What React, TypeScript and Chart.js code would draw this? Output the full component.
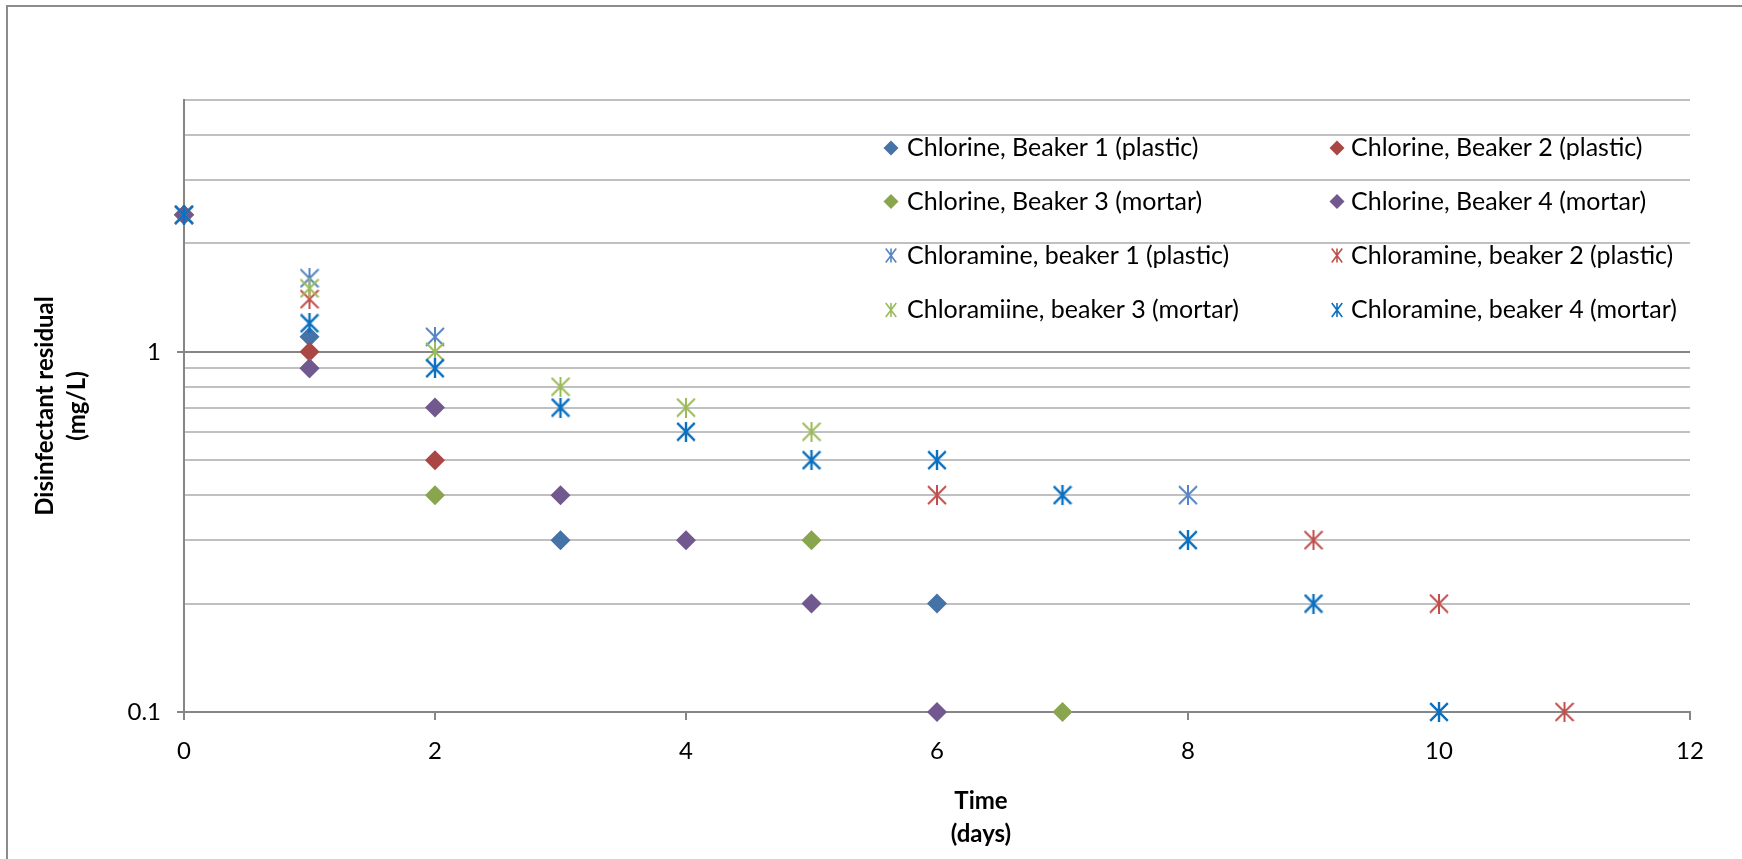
import React, { useEffect, useRef } from "react";
import { Chart, registerables } from "chart.js";

Chart.register(...registerables);

// ---- Data (days, mg/L) ----
const seriesLabels = [
  "Chlorine, Beaker 1 (plastic)",
  "Chlorine, Beaker 2 (plastic)",
  "Chlorine, Beaker 3 (mortar)",
  "Chlorine, Beaker 4 (mortar)",
  "Chloramine, beaker 1 (plastic)",
  "Chloramine, beaker 2 (plastic)",
  "Chloramiine, beaker 3 (mortar)",
  "Chloramine, beaker 4 (mortar)",
];

const clB1Days = [0, 1, 3, 6];
const clB1Values = [2.4, 1.1, 0.3, 0.2];
const clB2Days = [0, 1, 2];
const clB2Values = [2.4, 1.0, 0.5];
const clB3Days = [0, 1, 2, 5, 7];
const clB3Values = [2.4, 0.9, 0.4, 0.3, 0.1];
const clB4Days = [0, 1, 2, 3, 4, 5, 6];
const clB4Values = [2.4, 0.9, 0.7, 0.4, 0.3, 0.2, 0.1];

const cmB1Days = [0, 1, 2, 8];
const cmB1Values = [2.4, 1.6, 1.1, 0.4];
const cmB2Days = [0, 1, 6, 9, 10, 11];
const cmB2Values = [2.4, 1.4, 0.4, 0.3, 0.2, 0.1];
const cmB3Days = [0, 1, 2, 3, 4, 5];
const cmB3Values = [2.4, 1.5, 1.0, 0.8, 0.7, 0.6];
const cmB4Days = [0, 1, 2, 3, 4, 5, 6, 7, 8, 9, 10];
const cmB4Values = [2.4, 1.2, 0.9, 0.7, 0.6, 0.5, 0.5, 0.4, 0.3, 0.2, 0.1];

const xTickMin = 0;
const xTickMax = 12;
const xTickStep = 2;
const yTickValues = [0.1, 0.2, 0.3, 0.4, 0.5, 0.6, 0.7, 0.8, 0.9, 1, 2, 3, 4, 5];
const yLabeledTicks = [0.1, 1];

const seriesDays = [clB1Days, clB2Days, clB3Days, clB4Days, cmB1Days, cmB2Days, cmB3Days, cmB4Days];
const seriesValues = [clB1Values, clB2Values, clB3Values, clB4Values, cmB1Values, cmB2Values, cmB3Values, cmB4Values];
const seriesColors = ["#4572A7", "#AA4643", "#89A54E", "#71588F", "#5585C6", "#C0504D", "#9BBB59", "#0A70C0"];
const seriesMarkers = ["diamond", "diamond", "diamond", "diamond", "star", "star", "star", "star"];

const FONT = "Lato, 'Open Sans', sans-serif";

function makeStar(color: string, size: number, lw: number) {
  const c = document.createElement("canvas");
  c.width = size;
  c.height = size;
  const g = c.getContext("2d")!;
  g.strokeStyle = color;
  g.lineWidth = lw;
  const p = lw / 2;
  g.beginPath();
  g.moveTo(p, p);
  g.lineTo(size - p, size - p);
  g.moveTo(size - p, p);
  g.lineTo(p, size - p);
  g.moveTo(size / 2, 0);
  g.lineTo(size / 2, size);
  g.stroke();
  return c;
}

const decorPlugin = {
  id: "decor",
  afterDraw(chart: any) {
    const ctx = chart.ctx as CanvasRenderingContext2D;
    ctx.save();
    // outer chart border
    ctx.strokeStyle = "#8C8C8C";
    ctx.lineWidth = 2;
    ctx.strokeRect(7, 6, 3000, 3000);

    // axis titles
    ctx.fillStyle = "#000";
    ctx.font = `bold 24px ${FONT}`;
    ctx.textAlign = "center";
    ctx.textBaseline = "alphabetic";
    ctx.fillText("Time", 981, 809);
    ctx.fillText("(days)", 981, 842);

    ctx.save();
    ctx.translate(53, 406);
    ctx.rotate(-Math.PI / 2);
    ctx.fillText("Disinfectant residual", 0, 0);
    ctx.restore();
    ctx.save();
    ctx.translate(85, 406);
    ctx.rotate(-Math.PI / 2);
    ctx.fillText("(mg/L)", 0, 0);
    ctx.restore();

    // legend (inside plot, two columns)
    const colMarkerX = [891, 1337];
    const colTextX = [907, 1351];
    const rowBase = [156, 209.5, 263.5, 318];
    ctx.font = `25px ${FONT}`;
    ctx.textAlign = "left";
    chart.data.datasets.forEach((ds: any, i: number) => {
      const col = i % 2;
      const row = Math.floor(i / 2);
      const cy = rowBase[row] - 8;
      const mx = colMarkerX[col];
      const color = seriesColors[i];
      if (seriesMarkers[i] === "diamond") {
        ctx.fillStyle = color;
        ctx.beginPath();
        ctx.moveTo(mx - 7.5, cy);
        ctx.lineTo(mx, cy - 7.5);
        ctx.lineTo(mx + 7.5, cy);
        ctx.lineTo(mx, cy + 7.5);
        ctx.closePath();
        ctx.fill();
      } else {
        ctx.strokeStyle = color;
        ctx.lineWidth = 1.6;
        const r = 7;
        ctx.beginPath();
        ctx.moveTo(mx - r * 0.75, cy - r);
        ctx.lineTo(mx + r * 0.75, cy + r);
        ctx.moveTo(mx + r * 0.75, cy - r);
        ctx.lineTo(mx - r * 0.75, cy + r);
        ctx.moveTo(mx, cy - r);
        ctx.lineTo(mx, cy + r);
        ctx.stroke();
      }
      ctx.fillStyle = "#000";
      ctx.fillText(ds.label, colTextX[col], rowBase[row]);
    });
    ctx.restore();
  },
};

export default function App() {
  const ref = useRef<HTMLCanvasElement | null>(null);

  useEffect(() => {
    if (!ref.current) return;
    const datasets = seriesLabels.map((label, i) => {
      const isStar = seriesMarkers[i] === "star";
      return {
        label,
        data: seriesDays[i].map((d, j) => ({ x: d, y: seriesValues[i][j] })),
        pointStyle: isStar ? makeStar(seriesColors[i], 20, i === 7 ? 2.4 : 2) : "rectRot",
        pointRadius: 10,
        pointHoverRadius: 10,
        pointBackgroundColor: seriesColors[i],
        pointBorderColor: seriesColors[i],
        pointBorderWidth: 0,
        showLine: false,
        clip: false,
        order: -i,
      };
    });

    const chart = new Chart(ref.current, {
      type: "scatter",
      data: { datasets } as any,
      plugins: [decorPlugin],
      options: {
        responsive: false,
        animation: false,
        devicePixelRatio: 1,
        layout: { padding: { top: 100, right: 52, left: 0, bottom: 0 } },
        plugins: {
          legend: { display: false },
          tooltip: { enabled: false },
          title: { display: false },
        },
        scales: {
          x: {
            type: "linear",
            min: xTickMin,
            max: xTickMax,
            ticks: {
              stepSize: xTickStep,
              color: "#000",
              font: { family: FONT, size: 24 },
              padding: 17,
              maxRotation: 0,
            },
            grid: {
              drawOnChartArea: false,
              drawTicks: true,
              tickLength: 8,
              tickColor: "#868686",
              tickWidth: 2,
              lineWidth: 2,
            },
            border: { color: "#868686", width: 2 },
            afterFit: (s: any) => {
              s.height = 147;
            },
          },
          y: {
            type: "logarithmic",
            min: 0.1,
            max: 5,
            afterBuildTicks: (s: any) => {
              s.ticks = yTickValues.map((v) => ({ value: v, major: false }));
            },
            ticks: {
              autoSkip: false,
              color: "#000",
              font: { family: FONT, size: 24 },
              padding: 16,
              callback: (v: any) => (yLabeledTicks.includes(Number(v)) ? String(v) : ""),
            },
            grid: {
              color: (c: any) => (c.tick && yLabeledTicks.includes(c.tick.value) ? "#868686" : "#C0C0C0"),
              tickColor: (c: any) => (c.tick && yLabeledTicks.includes(c.tick.value) ? "#868686" : "rgba(0,0,0,0)"),
              lineWidth: 2,
              tickWidth: 2,
              tickLength: 7,
            },
            border: { color: "#868686", width: 2 },
            afterFit: (s: any) => {
              s.width = 184;
            },
          },
        },
      } as any,
    });
    return () => chart.destroy();
  }, []);

  return (
    <div style={{ position: "fixed", left: 0, top: 0, width: 1742, height: 859, background: "#fff" }}>
      <canvas ref={ref} width={1742} height={859} style={{ display: "block" }} />
    </div>
  );
}
